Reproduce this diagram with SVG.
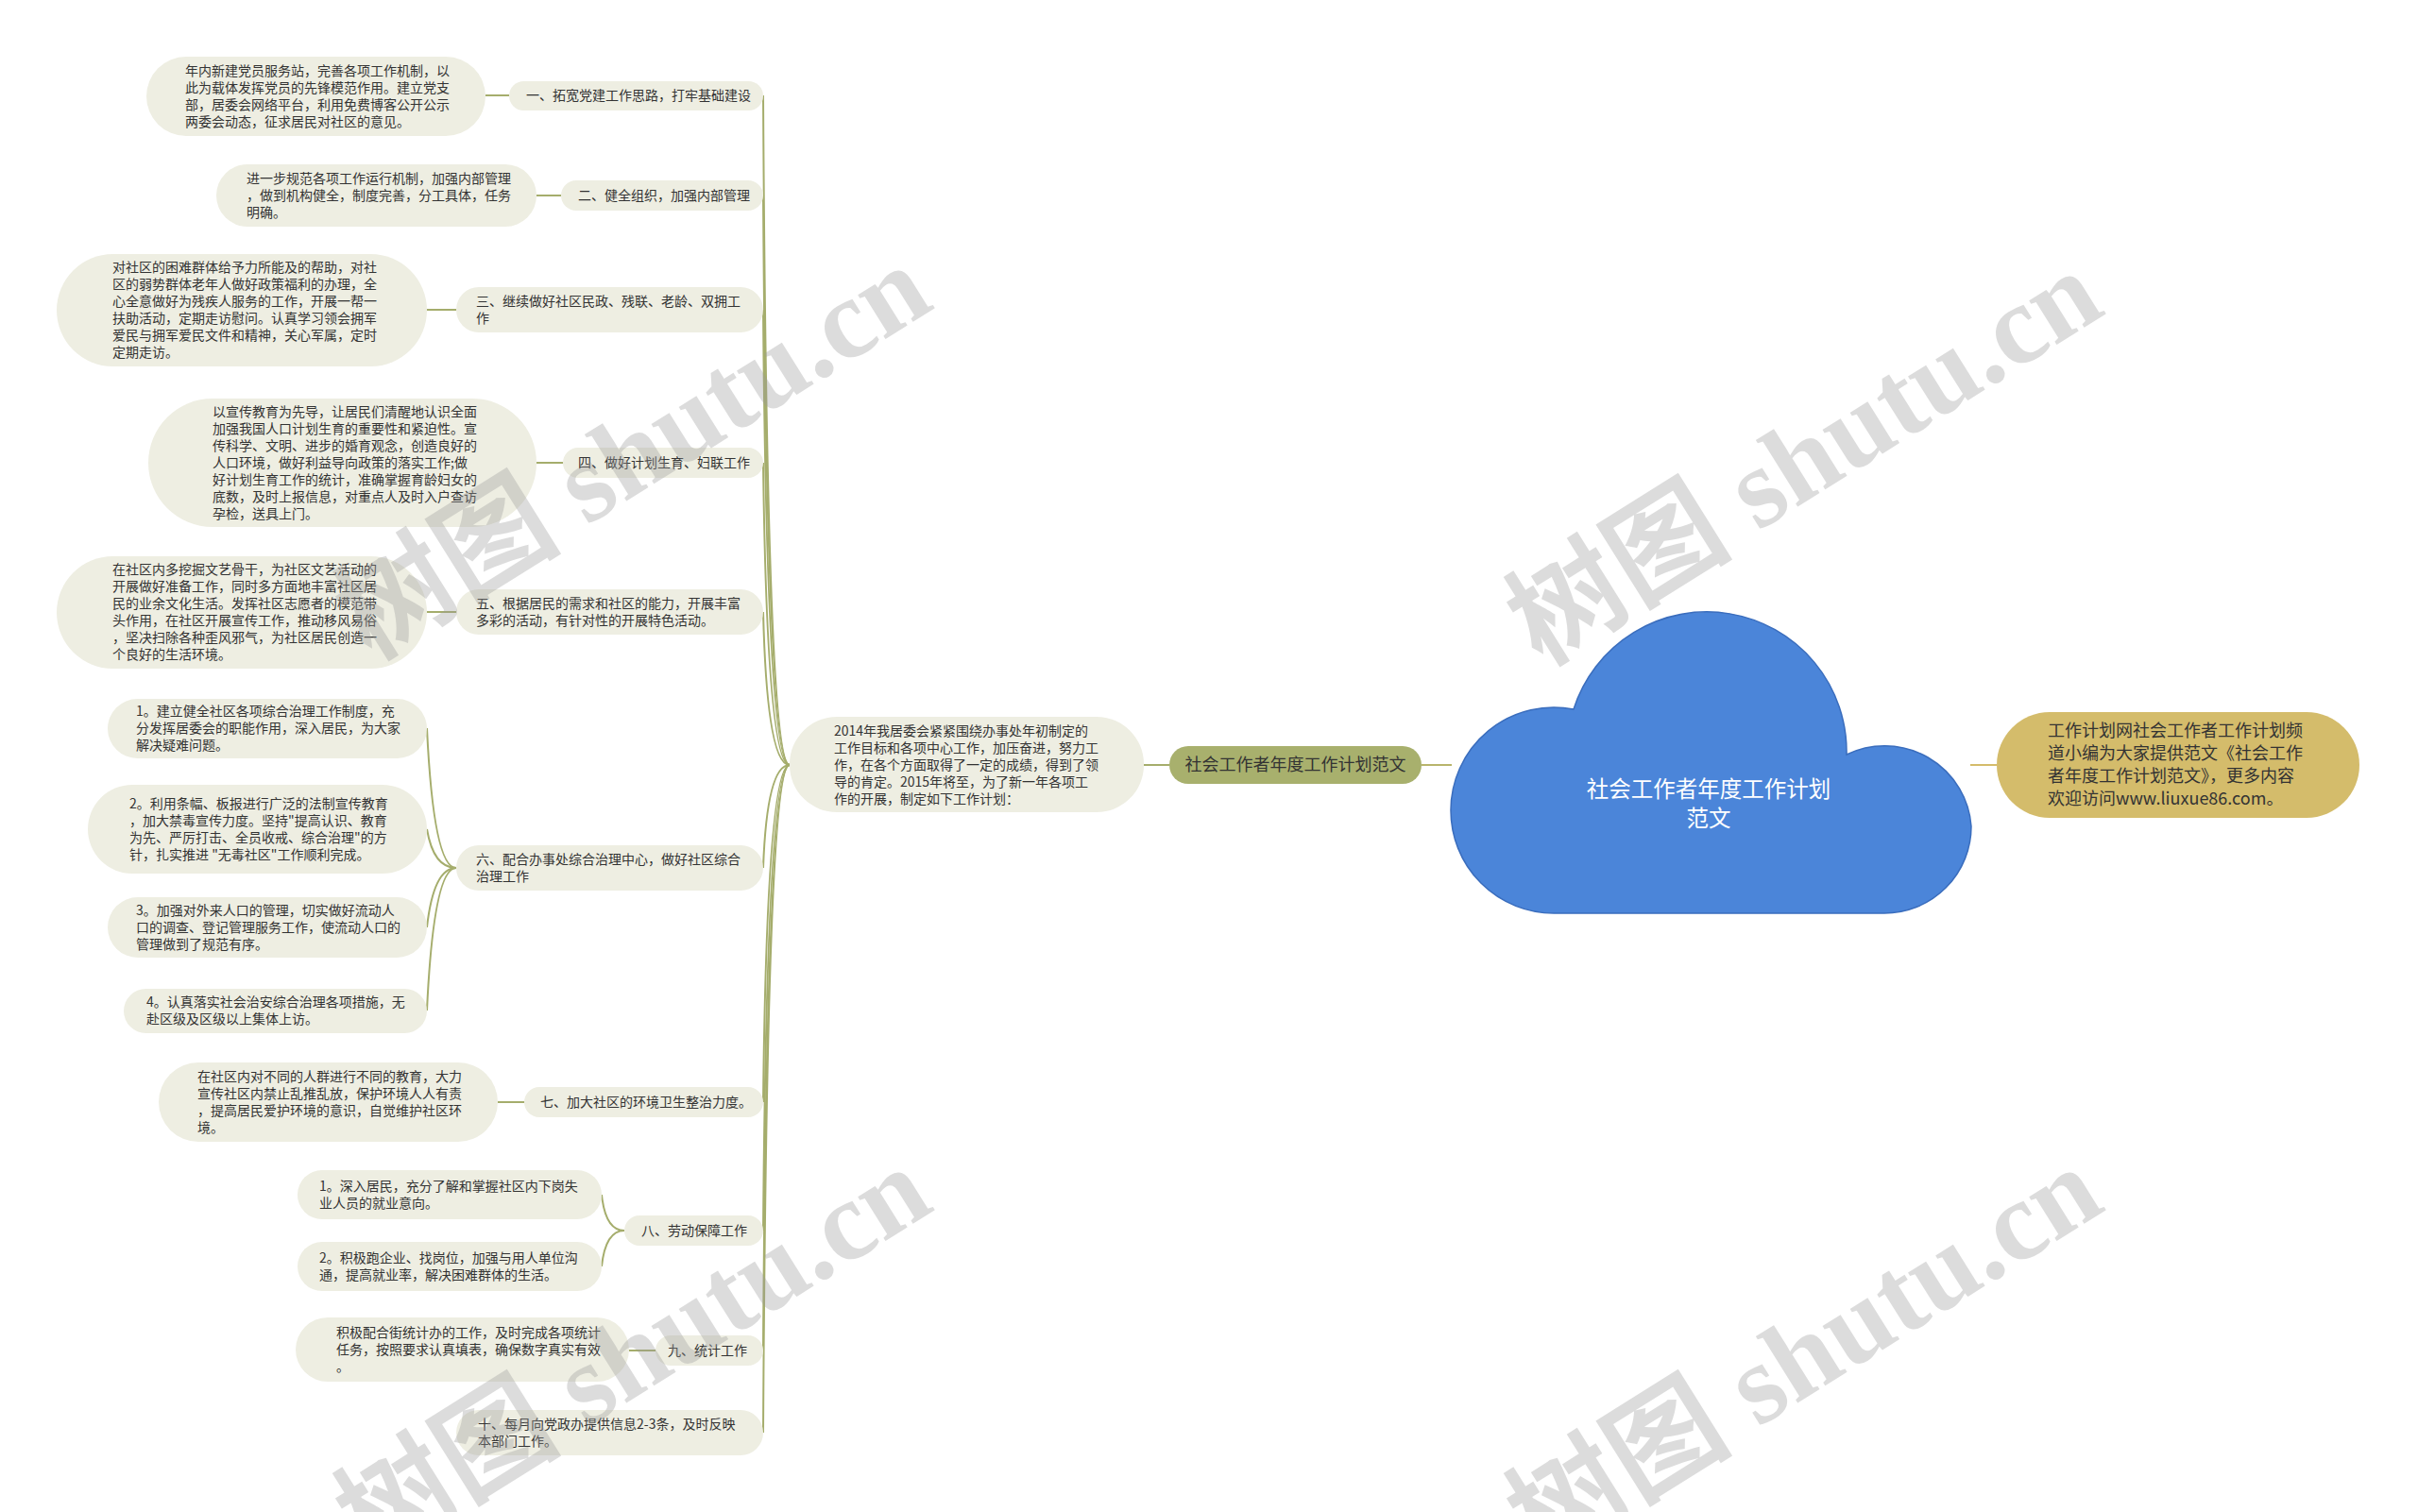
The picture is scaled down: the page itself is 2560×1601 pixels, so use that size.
<svg xmlns="http://www.w3.org/2000/svg" width="2560" height="1601" viewBox="0 0 2560 1601">
<style>
.bg{fill:#ffffff}
.leaf{fill:#eeeee2}
.t{font-family:"Noto Sans CJK SC","Noto Sans",sans-serif;font-size:14px;fill:#333333}
.conn{fill:none;stroke:#a5ad6c;stroke-width:2}
.olive{fill:#a8b06d}
.gold{fill:#d4bc6b}
.wm{font-family:"Liberation Serif","Noto Sans CJK SC",serif;font-size:120px;font-weight:bold;fill:#9a9a9a;opacity:0.34}
</style>
<rect class="bg" x="0" y="0" width="2560" height="1601"/>
<g id="connectors">
  <path class="conn" d="M836 810 Q812 810 808 101"/>
  <path class="conn" d="M836 810 Q812 810 808 207"/>
  <path class="conn" d="M836 810 Q812 810 808 328"/>
  <path class="conn" d="M836 810 Q812 810 808 490"/>
  <path class="conn" d="M836 810 Q812 810 808 648"/>
  <path class="conn" d="M836 810 Q812 810 808 919"/>
  <path class="conn" d="M836 810 Q812 810 808 1167"/>
  <path class="conn" d="M836 810 Q812 810 808 1303"/>
  <path class="conn" d="M836 810 Q812 810 808 1430"/>
  <path class="conn" d="M836 810 Q812 810 808 1517"/>
  <path class="conn" d="M514 101 L539 101"/>
  <path class="conn" d="M568 207 L594 207"/>
  <path class="conn" d="M452 328 L483 328"/>
  <path class="conn" d="M568 490 L596 490"/>
  <path class="conn" d="M452 648 L483 648"/>
  <path class="conn" d="M483 919 Q459 919 452 771"/>
  <path class="conn" d="M483 919 Q459 919 452 878"/>
  <path class="conn" d="M483 919 Q459 919 452 982"/>
  <path class="conn" d="M483 919 Q459 919 452 1070"/>
  <path class="conn" d="M527 1167 L555 1167"/>
  <path class="conn" d="M661 1303 Q641 1303 637 1265"/>
  <path class="conn" d="M661 1303 Q641 1303 637 1341"/>
  <path class="conn" d="M666 1430 L694 1430"/>
  <path class="conn" d="M1211 810 L1238 810"/>
  <path class="conn" d="M1505 810 L1537 810" style="stroke:#b8b46c"/>
  <path class="conn" d="M2086 810 L2114 810" style="stroke:#d4bc6b"/>
</g>

<g id="cloud">
  <path d="M1645 967 A109 109 0 0 1 1536 858 A109 109 0 0 1 1666 751 A148 148 0 0 1 1955 799 A92 92 0 0 1 2087 875 A92 92 0 0 1 1995 967 Z" fill="#4b85d9" stroke="#3a6dbd" stroke-width="1.5"/>
  <text x="1809" y="844" text-anchor="middle" style="font-family:'Noto Sans CJK SC',sans-serif;font-size:23.5px;fill:#ffffff">社会工作者年度工作计划</text>
  <text x="1809" y="875" text-anchor="middle" style="font-family:'Noto Sans CJK SC',sans-serif;font-size:23.5px;fill:#ffffff">范文</text>
</g>

<g id="note">
  <rect class="gold" x="2114" y="754" width="384" height="112" rx="56"/>
  <text class="t" style="font-size:18px" x="2168" y="780">工作计划网社会工作者工作计划频</text>
  <text class="t" style="font-size:18px" x="2168" y="804">道小编为大家提供范文《社会工作</text>
  <text class="t" style="font-size:18px" x="2168" y="828">者年度工作计划范文》，更多内容</text>
  <text class="t" style="font-size:18px" x="2168" y="852">欢迎访问www.liuxue86.com。</text>
</g>

<g id="title">
  <rect class="olive" x="1238" y="790" width="267" height="40" rx="20"/>
  <text class="t" style="font-size:18px" x="1371.5" y="816" text-anchor="middle">社会工作者年度工作计划范文</text>
</g>

<g id="intro">
  <rect class="leaf" x="836" y="759" width="375" height="101" rx="50"/>
  <text class="t" x="883" y="779">2014年我居委会紧紧围绕办事处年初制定的</text>
  <text class="t" x="883" y="797">工作目标和各项中心工作，加压奋进，努力工</text>
  <text class="t" x="883" y="815">作，在各个方面取得了一定的成绩，得到了领</text>
  <text class="t" x="883" y="833">导的肯定。2015年将至，为了新一年各项工</text>
  <text class="t" x="883" y="851">作的开展，制定如下工作计划：</text>
</g>

<g id="b1">
  <rect class="leaf" x="539" y="86" width="269" height="31" rx="15.5"/>
  <text class="t" x="557" y="106">一、拓宽党建工作思路，打牢基础建设</text>
</g>
<g id="b1-leaf">
  <rect class="leaf" x="155" y="60" width="359" height="84" rx="42"/>
  <text class="t" x="196" y="80">年内新建党员服务站，完善各项工作机制，以</text>
  <text class="t" x="196" y="98">此为载体发挥党员的先锋模范作用。建立党支</text>
  <text class="t" x="196" y="116">部，居委会网络平台，利用免费博客公开公示</text>
  <text class="t" x="196" y="134">两委会动态，征求居民对社区的意见。</text>
</g>

<g id="b2">
  <rect class="leaf" x="594" y="191" width="214" height="32" rx="16"/>
  <text class="t" x="612" y="212">二、健全组织，加强内部管理</text>
</g>
<g id="b2-leaf">
  <rect class="leaf" x="229" y="174" width="339" height="66" rx="33"/>
  <text class="t" x="261" y="194">进一步规范各项工作运行机制，加强内部管理</text>
  <text class="t" x="261" y="212">，做到机构健全，制度完善，分工具体，任务</text>
  <text class="t" x="261" y="230">明确。</text>
</g>

<g id="b3">
  <rect class="leaf" x="483" y="304" width="325" height="48" rx="24"/>
  <text class="t" x="504" y="324">三、继续做好社区民政、残联、老龄、双拥工</text>
  <text class="t" x="504" y="342">作</text>
</g>
<g id="b3-leaf">
  <rect class="leaf" x="60" y="269" width="392" height="119" rx="59.5"/>
  <text class="t" x="119" y="288">对社区的困难群体给予力所能及的帮助，对社</text>
  <text class="t" x="119" y="306">区的弱势群体老年人做好政策福利的办理，全</text>
  <text class="t" x="119" y="324">心全意做好为残疾人服务的工作，开展一帮一</text>
  <text class="t" x="119" y="342">扶助活动，定期走访慰问。认真学习领会拥军</text>
  <text class="t" x="119" y="360">爱民与拥军爱民文件和精神，关心军属，定时</text>
  <text class="t" x="119" y="378">定期走访。</text>
</g>

<g id="b4">
  <rect class="leaf" x="596" y="474" width="212" height="32" rx="16"/>
  <text class="t" x="612" y="495">四、做好计划生育、妇联工作</text>
</g>
<g id="b4-leaf">
  <rect class="leaf" x="157" y="422" width="411" height="136" rx="68"/>
  <text class="t" x="225" y="441">以宣传教育为先导，让居民们清醒地认识全面</text>
  <text class="t" x="225" y="459">加强我国人口计划生育的重要性和紧迫性。宣</text>
  <text class="t" x="225" y="477">传科学、文明、进步的婚育观念，创造良好的</text>
  <text class="t" x="225" y="495">人口环境，做好利益导向政策的落实工作;做</text>
  <text class="t" x="225" y="513">好计划生育工作的统计，准确掌握育龄妇女的</text>
  <text class="t" x="225" y="531">底数，及时上报信息，对重点人及时入户查访</text>
  <text class="t" x="225" y="549">孕检，送具上门。</text>
</g>

<g id="b5">
  <rect class="leaf" x="483" y="624" width="325" height="48" rx="24"/>
  <text class="t" x="504" y="644">五、根据居民的需求和社区的能力，开展丰富</text>
  <text class="t" x="504" y="662">多彩的活动，有针对性的开展特色活动。</text>
</g>
<g id="b5-leaf">
  <rect class="leaf" x="60" y="589" width="392" height="119" rx="59.5"/>
  <text class="t" x="119" y="608">在社区内多挖掘文艺骨干，为社区文艺活动的</text>
  <text class="t" x="119" y="626">开展做好准备工作，同时多方面地丰富社区居</text>
  <text class="t" x="119" y="644">民的业余文化生活。发挥社区志愿者的模范带</text>
  <text class="t" x="119" y="662">头作用，在社区开展宣传工作，推动移风易俗</text>
  <text class="t" x="119" y="680">，坚决扫除各种歪风邪气，为社区居民创造一</text>
  <text class="t" x="119" y="698">个良好的生活环境。</text>
</g>

<g id="b6">
  <rect class="leaf" x="483" y="895" width="325" height="48" rx="24"/>
  <text class="t" x="504" y="915">六、配合办事处综合治理中心，做好社区综合</text>
  <text class="t" x="504" y="933">治理工作</text>
</g>
<g id="b6-1">
  <rect class="leaf" x="114" y="740" width="338" height="63" rx="31.5"/>
  <text class="t" x="144" y="758">1。建立健全社区各项综合治理工作制度，充</text>
  <text class="t" x="144" y="776">分发挥居委会的职能作用，深入居民，为大家</text>
  <text class="t" x="144" y="794">解决疑难问题。</text>
</g>
<g id="b6-2">
  <rect class="leaf" x="93" y="831" width="359" height="94" rx="47"/>
  <text class="t" x="137" y="856">2。利用条幅、板报进行广泛的法制宣传教育</text>
  <text class="t" x="137" y="874">，加大禁毒宣传力度。坚持"提高认识、教育</text>
  <text class="t" x="137" y="892">为先、严厉打击、全员收戒、综合治理"的方</text>
  <text class="t" x="137" y="910">针，扎实推进 "无毒社区"工作顺利完成。</text>
</g>
<g id="b6-3">
  <rect class="leaf" x="114" y="950" width="338" height="64" rx="32"/>
  <text class="t" x="144" y="969">3。加强对外来人口的管理，切实做好流动人</text>
  <text class="t" x="144" y="987">口的调查、登记管理服务工作，使流动人口的</text>
  <text class="t" x="144" y="1005">管理做到了规范有序。</text>
</g>
<g id="b6-4">
  <rect class="leaf" x="131" y="1047" width="321" height="47" rx="23.5"/>
  <text class="t" x="155" y="1066">4。认真落实社会治安综合治理各项措施，无</text>
  <text class="t" x="155" y="1084">赴区级及区级以上集体上访。</text>
</g>

<g id="b7">
  <rect class="leaf" x="555" y="1151" width="253" height="32" rx="16"/>
  <text class="t" x="572" y="1172">七、加大社区的环境卫生整治力度。</text>
</g>
<g id="b7-leaf">
  <rect class="leaf" x="168" y="1125" width="359" height="84" rx="42"/>
  <text class="t" x="209" y="1145">在社区内对不同的人群进行不同的教育，大力</text>
  <text class="t" x="209" y="1163">宣传社区内禁止乱推乱放，保护环境人人有责</text>
  <text class="t" x="209" y="1181">，提高居民爱护环境的意识，自觉维护社区环</text>
  <text class="t" x="209" y="1199">境。</text>
</g>

<g id="b8">
  <rect class="leaf" x="661" y="1287" width="147" height="32" rx="16"/>
  <text class="t" x="679" y="1308">八、劳动保障工作</text>
</g>
<g id="b8-1">
  <rect class="leaf" x="315" y="1239" width="322" height="52" rx="26"/>
  <text class="t" x="338" y="1261">1。深入居民，充分了解和掌握社区内下岗失</text>
  <text class="t" x="338" y="1279">业人员的就业意向。</text>
</g>
<g id="b8-2">
  <rect class="leaf" x="315" y="1315" width="322" height="52" rx="26"/>
  <text class="t" x="338" y="1337">2。积极跑企业、找岗位，加强与用人单位沟</text>
  <text class="t" x="338" y="1355">通，提高就业率，解决困难群体的生活。</text>
</g>

<g id="b9">
  <rect class="leaf" x="694" y="1414" width="114" height="32" rx="16"/>
  <text class="t" x="707" y="1435">九、统计工作</text>
</g>
<g id="b9-leaf">
  <rect class="leaf" x="313" y="1395" width="353" height="68" rx="34"/>
  <text class="t" x="356" y="1416">积极配合街统计办的工作，及时完成各项统计</text>
  <text class="t" x="356" y="1434">任务，按照要求认真填表，确保数字真实有效</text>
  <text class="t" x="356" y="1452">。</text>
</g>

<g id="b10">
  <rect class="leaf" x="483" y="1493" width="325" height="48" rx="24"/>
  <text class="t" x="506" y="1513">十、每月向党政办提供信息2-3条，及时反映</text>
  <text class="t" x="506" y="1531">本部门工作。</text>
</g>

<g id="watermark">
  <text class="wm" transform="translate(392 700) rotate(-32)">树图 shutu.cn</text>
  <text class="wm" transform="translate(1632 706) rotate(-32)">树图 shutu.cn</text>
  <text class="wm" transform="translate(392 1655) rotate(-32)">树图 shutu.cn</text>
  <text class="wm" transform="translate(1632 1655) rotate(-32)">树图 shutu.cn</text>
</g>
</svg>
